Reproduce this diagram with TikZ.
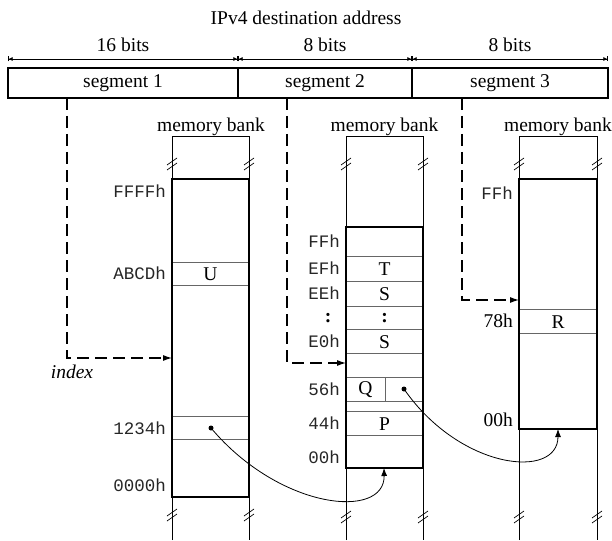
\documentclass[tikz,border=0pt]{standalone}
\usepackage{fontspec}
\setmainfont{Liberation Serif}
\setmonofont{Liberation Mono}
\usetikzlibrary{arrows.meta}
\begin{document}
\begin{tikzpicture}[x=1pt,y=-1pt,
  lbl/.style={font=\fontsize{19.5}{21}\selectfont, inner sep=0pt},
  hexl/.style={font=\fontsize{17.5}{19}\selectfont\ttfamily, inner sep=0pt, anchor=east, text=black!85},
  decl/.style={font=\fontsize{19.5}{21}\selectfont, inner sep=0pt, anchor=east},
  segbox/.style={draw, line width=1.1pt, minimum height=30pt, inner sep=0pt, outer sep=0pt, anchor=north west, font=\fontsize{19.5}{21}\selectfont},
  bankbox/.style={draw, line width=2.6pt, inner sep=0pt, outer sep=0pt, anchor=north west},
  rail/.style={line width=0.8pt},
  rowline/.style={line width=0.9pt, draw=black!60},
  dashedline/.style={line width=1.1pt, dash pattern=on 12pt off 6pt, -{Latex[length=9pt,width=6pt]}},
  ptr/.style={line width=0.8pt, -{Latex[length=8pt,width=6pt]}},
  dimline/.style={line width=0.6pt, {Bar[width=5pt]Latex[length=4pt,width=4pt]}-{Latex[length=4pt,width=4pt]Bar[width=5pt]}},
  dotnode/.style={circle, fill, inner sep=0pt, minimum size=5pt},
  brk/.pic={\draw[line width=0.7pt] (-5,3) -- (5,-4) (-5,8) -- (5,1);}
]
\useasboundingbox (0,0) rectangle (612,540);

% title and bit widths
\node[lbl] (title) at (306,18) {IPv4 destination address};
\node[lbl] (b16) at (123,45) {16 bits};
\node[lbl] (b8a) at (325,45) {8 bits};
\node[lbl] (b8b) at (510,45) {8 bits};
\coordinate (d0) at (8,59);
\coordinate (d1) at (238,59);
\coordinate (d2) at (412,59);
\coordinate (d3) at (608,59);
\draw[dimline] (d0) -- (d1);
\draw[dimline] (d1) -- (d2);
\draw[dimline] (d2) -- (d3);

% segments
\node[segbox, minimum width=230pt] (seg1) at (8,68) {segment 1};
\node[segbox, minimum width=174pt] (seg2) at (238,68) {segment 2};
\node[segbox, minimum width=196pt] (seg3) at (412,68) {segment 3};

% ---------- bank 1 ----------
\node[lbl] (mb1) at (211,127) {memory bank};
\draw[rail] (172,540) -- (172,136) -- (249,136) -- (249,540);
\pic at (172,162) {brk}; \pic at (249,162) {brk};
\pic at (172,513) {brk}; \pic at (249,513) {brk};
\node[bankbox, fill=white, minimum width=77pt, minimum height=318pt] (bank1) at (172,179) {};
\draw[rowline] (172,262) -- (249,262) (172,285) -- (249,285)
               (172,416) -- (249,416) (172,439) -- (249,439);
\draw[line width=2.6pt] (bank1.north west) rectangle (bank1.south east);
\node[lbl] (U) at (210.5,274) {U};
\node[dotnode] (dot1) at (211,428) {};
\node[hexl] (a1) at (166,191) {FFFFh};
\node[hexl] (a2) at (166,273) {ABCDh};
\node[hexl] (a3) at (166,428) {1234h};
\node[hexl] (a4) at (166,485) {0000h};

% ---------- bank 2 ----------
\node[lbl] (mb2) at (384.5,127) {memory bank};
\draw[rail] (346,540) -- (346,136) -- (423,136) -- (423,540);
\pic at (346,162) {brk}; \pic at (423,162) {brk};
\pic at (346,515) {brk}; \pic at (423,515) {brk};
\node[bankbox, fill=white, minimum width=77pt, minimum height=241pt] (bank2) at (346,227) {};
\draw[rowline] (346,256) -- (423,256) (346,281) -- (423,281) (346,306) -- (423,306)
               (346,329) -- (423,329) (346,353) -- (423,353) (346,377) -- (423,377)
               (346,401) -- (423,401) (346,411) -- (423,411) (346,435) -- (423,435)
               (385,377) -- (385,401);
\draw[line width=2.6pt] (bank2.north west) rectangle (bank2.south east);
\node[lbl] (T) at (384.5,269) {T};
\node[lbl] (S1) at (384.5,294) {S};
\node[lbl] (c1) at (384.5,318) {\textbf{:}};
\node[lbl] (S2) at (384.5,342) {S};
\node[lbl] (Q) at (365.5,390) {Q};
\node[dotnode] (dot2) at (404,389) {};
\node[lbl] (P) at (384.5,424) {P};
\node[hexl] (m1) at (340,241) {FFh};
\node[hexl] (m2) at (340,268) {EFh};
\node[hexl] (m3) at (340,293) {EEh};
\node[lbl] (mc) at (328,318) {\textbf{:}};
\node[hexl] (m4) at (340,341) {E0h};
\node[hexl] (m5) at (340,389) {56h};
\node[hexl] (m6) at (340,423) {44h};
\node[hexl] (m7) at (340,457) {00h};

% ---------- bank 3 ----------
\node[lbl] (mb3) at (558,127) {memory bank};
\draw[rail] (519,540) -- (519,136) -- (597,136) -- (597,540);
\pic at (519,162) {brk}; \pic at (597,162) {brk};
\pic at (519,515) {brk}; \pic at (597,515) {brk};
\node[bankbox, fill=white, minimum width=78pt, minimum height=250pt] (bank3) at (519,179) {};
\draw[rowline] (519,309) -- (597,309) (519,333) -- (597,333);
\draw[line width=2.6pt] (bank3.north west) rectangle (bank3.south east);
\node[lbl] (R) at (558,322) {R};
\node[hexl] (r1) at (513,193) {FFh};
\node[decl] (r2) at (513,321) {78h};
\node[decl] (r3) at (513,420) {00h};

% ---------- index connectors ----------
\coordinate (in1) at (172,358);
\coordinate (in2) at (346,363);
\coordinate (in3) at (519,300);
\draw[dashedline] ([xshift=59pt]seg1.south west) |- (in1);
\draw[dashedline] ([xshift=49pt]seg2.south west) |- (in2);
\draw[dashedline] ([xshift=50pt]seg3.south west) |- (in3);
\node[lbl] (idx) at (72,372) {\itshape index};

% ---------- pointer curves ----------
\draw[ptr] (dot1.center) .. controls (280,510) and (385,520) .. ([xshift=-0.5pt]bank2.south);
\draw[ptr] (dot2.center) .. controls (460,470) and (558,480) .. (bank3.south);
\end{tikzpicture}
\end{document}
